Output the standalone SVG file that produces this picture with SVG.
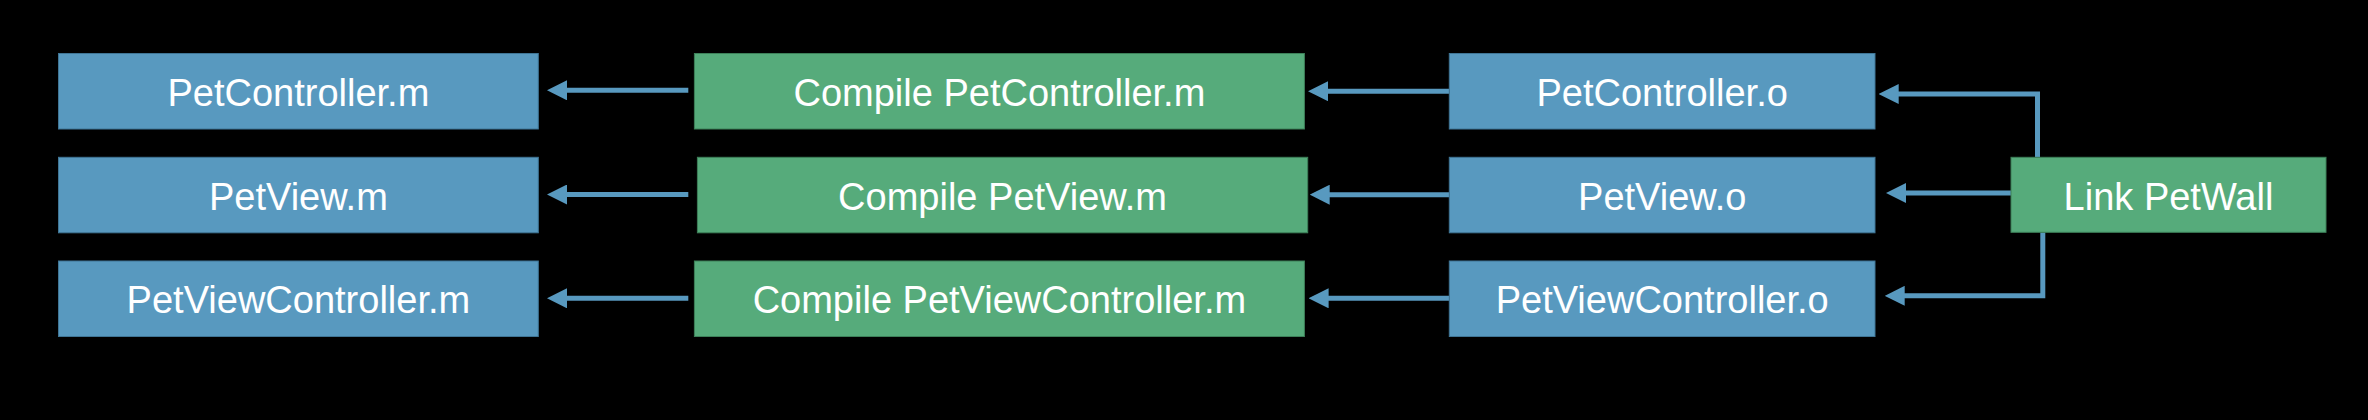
<svg xmlns="http://www.w3.org/2000/svg" width="2368" height="420" viewBox="0 0 2368 420">
  <style>
    .bg { fill: #000000; }
    .blue { fill: #5899bf; stroke: #3f7595; stroke-width: 1; }
    .green { fill: #56ab7b; stroke: #3d8059; stroke-width: 1; }
    .lbl { fill: #ffffff; font-family: "Liberation Sans", Arial, sans-serif; font-size: 38px; text-anchor: middle; }
    .conn { fill: none; stroke: #5899bf; stroke-width: 5; marker-end: url(#arrow); }
  </style>
  <defs>
    <marker id="arrow" markerUnits="userSpaceOnUse" markerWidth="20" markerHeight="20" refX="1" refY="10" orient="auto" viewBox="0 0 20 20">
      <path d="M0,0 L20,10 L0,20 Z" fill="#5899bf"/>
    </marker>
  </defs>
  <rect class="bg" x="0" y="0" width="2368" height="420"/>

  <g id="connectors">
    <path class="conn" d="M688.3,90.3 L566,90.3"/>
    <path class="conn" d="M688.3,194.5 L566,194.5"/>
    <path class="conn" d="M688.3,298.3 L566,298.3"/>
    <path class="conn" d="M1449.3,91.2 L1327,91.2"/>
    <path class="conn" d="M1449.3,194.7 L1328.7,194.7"/>
    <path class="conn" d="M1449.3,298.3 L1327.6,298.3"/>
    <path class="conn" d="M2037.5,157.3 L2037.5,94 L1897.7,94"/>
    <path class="conn" d="M2011,193 L1905,193"/>
    <path class="conn" d="M2042.8,232.3 L2042.8,295.8 L1903.7,295.8"/>
  </g>

  <g id="petcontroller-m">
    <rect class="blue" x="58.5" y="53.5" width="479.8" height="75.5"/>
    <text class="lbl" x="298.4" y="106">PetController.m</text>
  </g>
  <g id="petview-m">
    <rect class="blue" x="58.5" y="157.3" width="479.8" height="75.5"/>
    <text class="lbl" x="298.4" y="209.5">PetView.m</text>
  </g>
  <g id="petviewcontroller-m">
    <rect class="blue" x="58.5" y="261" width="479.8" height="75.5"/>
    <text class="lbl" x="298.4" y="313">PetViewController.m</text>
  </g>

  <g id="compile-petcontroller">
    <rect class="green" x="694.4" y="53.5" width="610" height="75.5"/>
    <text class="lbl" x="999.4" y="106">Compile PetController.m</text>
  </g>
  <g id="compile-petview">
    <rect class="green" x="697.4" y="157.3" width="610.3" height="75.5"/>
    <text class="lbl" x="1002.5" y="209.5">Compile PetView.m</text>
  </g>
  <g id="compile-petviewcontroller">
    <rect class="green" x="694.4" y="261" width="610" height="75.5"/>
    <text class="lbl" x="999.4" y="313">Compile PetViewController.m</text>
  </g>

  <g id="petcontroller-o">
    <rect class="blue" x="1449.3" y="53.5" width="425.7" height="75.5"/>
    <text class="lbl" x="1662.2" y="106">PetController.o</text>
  </g>
  <g id="petview-o">
    <rect class="blue" x="1449.3" y="157.3" width="425.7" height="75.5"/>
    <text class="lbl" x="1662.2" y="209.5">PetView.o</text>
  </g>
  <g id="petviewcontroller-o">
    <rect class="blue" x="1449.3" y="261" width="425.7" height="75.5"/>
    <text class="lbl" x="1662.2" y="313">PetViewController.o</text>
  </g>

  <g id="link-petwall">
    <rect class="green" x="2011" y="157.3" width="315" height="75"/>
    <text class="lbl" x="2168.5" y="209.5">Link PetWall</text>
  </g>
</svg>
